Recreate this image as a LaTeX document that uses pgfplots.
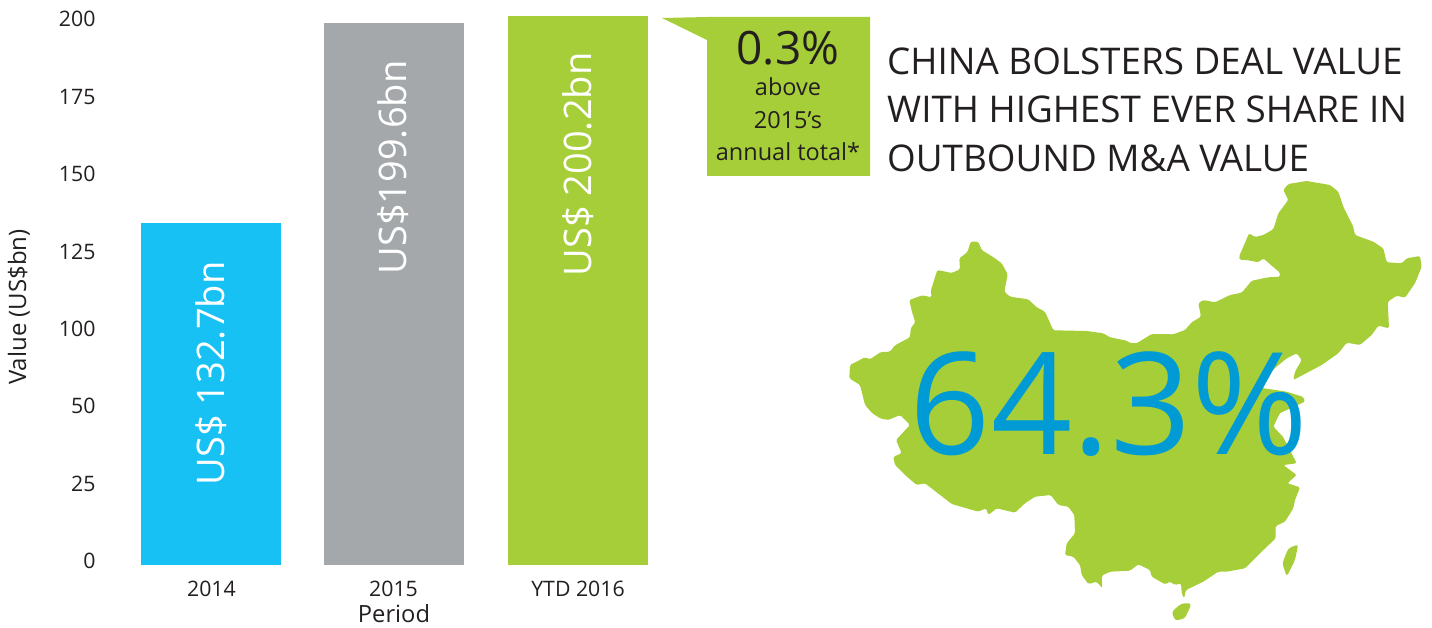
\documentclass[border=0pt]{standalone}
\usepackage{pgfplots}
\pgfplotsset{compat=1.18}
\usepackage{fontspec}
\setmainfont{Open Sans}
\definecolor{barblue}{HTML}{17C1F4}
\definecolor{bargray}{HTML}{A4A8AA}
\definecolor{bargreen}{HTML}{A6CE39}
\definecolor{bigblue}{HTML}{009BD5}
\definecolor{ink}{HTML}{231F20}
\newcommand{\fs}[1]{\fontsize{#1}{#1}\selectfont}
\begin{document}
\begin{tikzpicture}
\useasboundingbox (0,0) rectangle (1432pt,627pt);
\begin{axis}[
  at={(100pt,62pt)}, anchor=south west, scale only axis,
  width=600pt, height=565pt,
  xmin=-0.609, xmax=2.669, ymin=23.45, ymax=205.9,
  axis line style={draw=none}, major tick length=0pt,
  xtick={0,0.9945,2.0027}, xticklabels={2014,2015,YTD 2016},
  ytick={25,50,75,100,125,150,175,200},
  yticklabels={0,25,50,100,125,150,175,200},
  tick label style={font=\fs{21.3}, text=ink},
  /pgf/number format/assume math mode=true,
  xticklabel style={yshift=-13pt},
  yticklabel style={xshift=-1pt, yshift=-1pt},
  xlabel={Period}, ylabel={Value (US\$bn)},
  xlabel style={font=\fs{23.7}, text=ink, at={(axis description cs:0.49,-0.0867)}, anchor=center},
  ylabel style={font=\fs{24}, text=ink, at={(axis description cs:-0.135,0.4566)}, anchor=center},
  ybar, bar shift=0pt, bar width=140pt,
]
\addplot[fill=barblue, draw=none] coordinates {(0,133.9)};
\addplot[fill=bargray, draw=none] coordinates {(0.9945,198.5)};
\addplot[fill=bargreen, draw=none] coordinates {(2.0027,200.8)};
\node[rotate=90, text=white, font=\fs{38}] at (axis cs:0,85.3) {US\$ 132.7bn};
\node[rotate=90, text=white, font=\fs{38}] at (axis cs:0.9945,151.8) {US\$199.6bn};
\node[rotate=90, text=white, font=\fs{38}] at (axis cs:2.0027,152.8) {US\$ 200.2bn};
\end{axis}
\begin{scope}[x=1pt,y=-1pt,shift={(0pt,627pt)}]
% callout
\fill[bargreen] (662,18) -- (707,17) -- (870,17) -- (870,176) -- (707,176) -- (707,40) -- cycle;
\node[anchor=base,text=ink,font=\fs{46}] at (788,65) {0.3\%};
\node[anchor=base,text=ink,font=\fs{23.5}] at (788,96) {above};
\node[anchor=base,text=ink,font=\fs{23.5}] at (788,129) {2015’s};
\node[anchor=base,text=ink,font=\fs{23.5}] at (788,161) {annual total*};
% heading
\node[anchor=base west,inner sep=0pt,text=ink,font=\fs{36.8}] at (887,75) {CHINA BOLSTERS DEAL VALUE};
\node[anchor=base west,inner sep=0pt,text=ink,font=\fs{36.8}] at (887,123) {WITH HIGHEST EVER SHARE IN};
\node[anchor=base west,inner sep=0pt,text=ink,font=\fs{36.8}] at (887,172) {OUTBOUND M\&A VALUE};
% map
\fill[bargreen,rounded corners=1.5pt] (850,365) -- (865,357.3) -- (870,359.3) -- (880.7,352) -- (890,351.7) -- (895,345.3) -- (910,337.3) -- (910.7,328.3) -- (915.3,322.3) -- (911.7,311) -- (909.3,300) -- (922.3,295.3) -- (931.7,297.3) -- (930.7,291) -- (937.3,270) -- (951.7,273) -- (960,269.3) -- (959.3,258.3) -- (967.3,252.3) -- (970.7,241.7) -- (978.3,241.7) -- (981.7,250) -- (995,258.3) -- (1001.7,263.3) -- (1007.7,274.3) -- (1004.3,291.7) -- (1010,296.7) -- (1028.3,299.3) -- (1036.7,307.3) -- (1045,311.7) -- (1053.3,330.3) -- (1086.7,331) -- (1103.3,333.3) -- (1110,337.3) -- (1126.7,340.7) -- (1130,343) -- (1136.7,343.3) -- (1151.7,334) -- (1173.3,334.3) -- (1185,330) -- (1191.7,322.3) -- (1201,316.7) -- (1198.3,303.3) -- (1203.3,300) -- (1215,302.3) -- (1230,295) -- (1241.7,292.7) -- (1251.7,280.7) -- (1268.3,277.3) -- (1280,276.7) -- (1280,272.7) -- (1271.7,265.7) -- (1263.3,258.3) -- (1258.3,262.3) -- (1246.7,260) -- (1240,260) -- (1239,256.7) -- (1249,233.3) -- (1255,237) -- (1263.3,235) -- (1273.3,229.3) -- (1278.3,213.3) -- (1288.3,200) -- (1283.3,190) -- (1288.3,184) -- (1306.7,181) -- (1330,185) -- (1338.3,191.7) -- (1343.3,206.7) -- (1353.3,226.7) -- (1355,235) -- (1373.3,241.7) -- (1383.3,248.3) -- (1386.7,262.3) -- (1401.7,263.3) -- (1406.7,258.3) -- (1420,256) -- (1421.7,266.7) -- (1415,283.3) -- (1405,297.7) -- (1396.7,295.7) -- (1387.7,301.7) -- (1389,328.3) -- (1378.3,325.7) -- (1371.7,335) -- (1360,345) -- (1346.7,342.7) -- (1338.3,353.3) -- (1321.7,365) -- (1293.3,380) -- (1295,371.7) -- (1301.7,360) -- (1296.7,353.3) -- (1286.7,358.3) -- (1266.7,375) -- (1262,388) -- (1286.7,391.7) -- (1303.3,397) -- (1305,401.7) -- (1280,413) -- (1273.3,426.7) -- (1283,436.7) -- (1296.7,463.3) -- (1283.3,465) -- (1296.7,475) -- (1287.3,483.3) -- (1300,487.3) -- (1295,500) -- (1293.3,508.3) -- (1285,521.7) -- (1275.7,526) -- (1275.7,538.3) -- (1260,553.3) -- (1245,568.3) -- (1226.7,571.7) -- (1218.3,571.7) -- (1203.3,581.7) -- (1186,590) -- (1184,598.3) -- (1181.7,593.3) -- (1181,583.3) -- (1175,585) -- (1170,581.7) -- (1165,584.3) -- (1151.7,576.7) -- (1150,570) -- (1138.3,564.3) -- (1130,570.7) -- (1110,571.7) -- (1101.7,575.7) -- (1102.3,588.3) -- (1096.7,581.7) -- (1088.3,584) -- (1081.7,575) -- (1080,565) -- (1073.3,556.7) -- (1065,555) -- (1066.7,543.3) -- (1075,533.3) -- (1074.3,515) -- (1068.3,506.7) -- (1058.3,505) -- (1050.7,495) -- (1035,496.7) -- (1025,503.3) -- (1015,512.7) -- (996.7,508.3) -- (988.3,515) -- (986,508.3) -- (978.3,511.7) -- (951.7,504) -- (925,483.3) -- (916.7,485) -- (905,475) -- (895,465) -- (893.3,456.7) -- (901.7,453.3) -- (896,440) -- (910,425) -- (900,415) -- (888.3,420) -- (880,418.3) -- (872,413) -- (865,405) -- (860,385) -- (849.3,378.3) -- cycle;
\fill[bargreen,rounded corners=3pt] (1298.3,544.3) -- (1288.3,548.3) -- (1282.3,563.3) -- (1286.7,576.7) -- (1295,560) -- cycle;
\fill[bargreen,rounded corners=3pt] (1191.7,603.3) -- (1181.7,603.3) -- (1171.7,611.7) -- (1175,620.7) -- (1185,618.3) -- cycle;
\node[anchor=base,inner sep=0pt,text=bigblue,font=\fs{142}] at (1109,455) {64.3\%};
\end{scope}
\end{tikzpicture}
\end{document}
